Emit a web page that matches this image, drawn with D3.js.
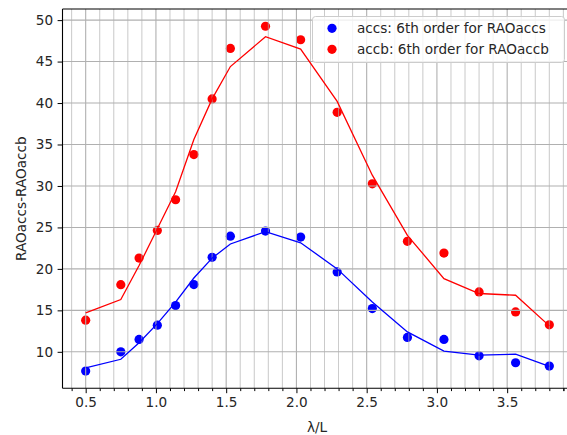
<!DOCTYPE html>
<html>
<head>
<meta charset="utf-8">
<script src="https://cdn.jsdelivr.net/npm/d3@7"></script>
<style>
  html, body { margin: 0; padding: 0; background: #fff; }
  svg { display: block; font-family: "DejaVu Sans", sans-serif; }
</style>
</head>
<body>
<svg id="chart" width="567" height="435"></svg>
<script>
// λ/L sample positions
const lambdaL = [0.5, 0.75, 0.88, 1.01, 1.14, 1.27, 1.40, 1.53, 1.78, 2.03, 2.29, 2.54, 2.79, 3.05, 3.30, 3.56, 3.80];

// measured RAO values
const raoAccs = [7.68, 10.0, 11.49, 13.21, 15.58, 18.11, 21.40, 23.94, 24.56, 23.84, 19.63, 15.22, 11.73, 11.49, 9.52, 8.68, 8.28];
const raoAccb = [13.81, 18.1, 21.3, 24.64, 28.34, 33.79, 40.49, 46.58, 49.26, 47.63, 38.88, 30.26, 23.32, 21.91, 17.22, 14.81, 13.25];

// 6th order polynomial fits evaluated at the sample positions
const fitAccs = [8.07, 9.1, 11.1, 13.4, 16.0, 18.9, 21.3, 23.0, 24.5, 23.15, 20.0, 16.0, 12.4, 10.08, 9.6, 9.72, 8.24];
const fitAccb = [14.7, 16.3, 20.4, 24.85, 29.3, 35.6, 40.5, 44.4, 48.0, 46.5, 40.2, 31.3, 24.04, 18.83, 17.03, 16.82, 13.13];

const seriesNames = ["accs: 6th order for RAOaccs", "accb: 6th order for RAOaccb"];
const seriesColors = ["#0000ff", "#ff0000"];

const xTicks = [0.5, 1.0, 1.5, 2.0, 2.5, 3.0, 3.5];
const yTicks = [10, 15, 20, 25, 30, 35, 40, 45, 50];

(function draw() {
  const svg = d3.select("#chart");
  const x0 = 62.5, x1 = 572.5, y0 = 9, y1 = 388.3;

  const x = d3.scaleLinear().domain([0.335, 3.965]).range([x0, x1]);
  const y = d3.scaleLinear().domain([5.6, 51.34]).range([y1, y0]);

  const fontSize = 13.6;
  const textColor = "#262626";

  // minor x positions every 0.1
  const xMinor = d3.range(4, 40).map(d => d / 10)
    .filter(d => Math.abs(d * 2 - Math.round(d * 2)) > 1e-6);

  const series = [
    { values: raoAccs, fit: fitAccs, color: seriesColors[0], name: seriesNames[0] },
    { values: raoAccb, fit: fitAccb, color: seriesColors[1], name: seriesNames[1] }
  ];

  const plot = svg.append("g");
  plot.append("defs").append("clipPath").attr("id", "clip")
    .append("rect").attr("x", x0).attr("y", y0).attr("width", x1 - x0).attr("height", y1 - y0);

  // scatter markers (beneath the grid)
  const markers = plot.append("g").attr("clip-path", "url(#clip)");
  series.forEach(s => {
    markers.selectAll(null).data(lambdaL.map((v, i) => [v, s.values[i]])).enter()
      .append("circle")
      .attr("cx", d => x(d[0]))
      .attr("cy", d => y(d[1]))
      .attr("r", 4.6)
      .attr("fill", s.color);
  });

  // grid
  const grid = plot.append("g").attr("clip-path", "url(#clip)");
  grid.selectAll(null).data(xMinor).enter().append("line")
    .attr("x1", d => x(d)).attr("x2", d => x(d))
    .attr("y1", y0).attr("y2", y1)
    .attr("stroke", "#b0b0b0").attr("stroke-width", 0.8).attr("opacity", 0.85);
  grid.selectAll(null).data(xTicks.concat([4.0])).enter().append("line")
    .attr("x1", d => x(d)).attr("x2", d => x(d))
    .attr("y1", y0).attr("y2", y1)
    .attr("stroke", "#b0b0b0").attr("stroke-width", 1.1);
  grid.selectAll(null).data(yTicks).enter().append("line")
    .attr("x1", x0).attr("x2", x1)
    .attr("y1", d => y(d)).attr("y2", d => y(d))
    .attr("stroke", "#b0b0b0").attr("stroke-width", 1.1);

  // fitted curves
  const line = d3.line().x(d => x(d[0])).y(d => y(d[1]));
  series.forEach(s => {
    plot.append("path")
      .datum(lambdaL.map((v, i) => [v, s.fit[i]]))
      .attr("d", line)
      .attr("fill", "none")
      .attr("stroke", s.color)
      .attr("stroke-width", 1.3)
      .attr("clip-path", "url(#clip)");
  });

  // axes
  const xAxis = svg.append("g").attr("transform", `translate(0,${y1})`)
    .call(d3.axisBottom(x).tickValues(xTicks).tickFormat(d3.format(".1f")).tickSize(4.9).tickPadding(4.5));
  const xAxisMinor = svg.append("g").attr("transform", `translate(0,${y1})`)
    .call(d3.axisBottom(x).tickValues(xMinor.concat([3.9])).tickFormat("").tickSize(2.8));
  const yAxis = svg.append("g").attr("transform", `translate(${x0},0)`)
    .call(d3.axisLeft(y).tickValues(yTicks).tickFormat(d3.format("d")).tickSize(4.9).tickPadding(4.5));

  [xAxis, xAxisMinor, yAxis].forEach(g => {
    g.select(".domain").remove();
    g.selectAll(".tick line").attr("stroke", "#000").attr("stroke-width", 1);
    g.selectAll(".tick text").attr("fill", textColor).style("font-size", fontSize + "px")
      .style("font-family", "DejaVu Sans");
  });

  // spines
  svg.append("line").attr("x1", x0).attr("x2", x0).attr("y1", y0).attr("y2", y1)
    .attr("stroke", "#000").attr("stroke-width", 1.1);
  svg.append("line").attr("x1", x0).attr("x2", x1).attr("y1", y1).attr("y2", y1)
    .attr("stroke", "#000").attr("stroke-width", 1.1);
  svg.append("line").attr("x1", x0).attr("x2", x1).attr("y1", y0).attr("y2", y0)
    .attr("stroke", "#000").attr("stroke-width", 1.1);

  // axis titles
  svg.append("text").attr("x", (x0 + x1) / 2 - 0.5).attr("y", 432)
    .attr("text-anchor", "middle").attr("fill", textColor)
    .style("font-size", fontSize + "px").text("λ/L");
  svg.append("text")
    .attr("transform", `translate(26,${(y0 + y1) / 2}) rotate(-90)`)
    .attr("text-anchor", "middle").attr("fill", textColor)
    .style("font-size", fontSize + "px").text("RAOaccs-RAOaccb");

  // legend
  const lg = svg.append("g");
  lg.append("rect").attr("x", 312.5).attr("y", 16.5).attr("width", 252).attr("height", 46)
    .attr("rx", 3).attr("fill", "#fff").attr("fill-opacity", 0.8)
    .attr("stroke", "#cccccc").attr("stroke-width", 1);
  series.forEach((s, i) => {
    const cy = 28.3 + i * 21;
    lg.append("circle").attr("cx", 332).attr("cy", cy).attr("r", 4.6).attr("fill", s.color);
    lg.append("text").attr("x", 357).attr("y", cy).attr("dy", "0.36em")
      .attr("fill", textColor).style("font-size", fontSize + "px").text(s.name);
  });
})();
</script>
</body>
</html>
